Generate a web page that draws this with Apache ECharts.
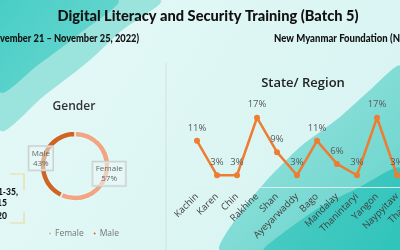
<!DOCTYPE html>
<html><head><meta charset="utf-8">
<script src="https://cdn.jsdelivr.net/npm/echarts@6/dist/echarts.min.js"></script>
<style>html,body{margin:0;padding:0;}#c{width:400px;height:250px;}</style>
</head><body><div id="c"></div>
<script>
const titleText = 'Digital Literacy and Security Training (Batch 5)';
const dateText = '(November 21 – November 25, 2022)';
const orgText = 'New Myanmar Foundation (NMF)';
const sideLines = ['Age: 21-35,', 'Male: 15', 'Female: 20'];
const genderTitle = 'Gender';
const genderNames = ['Female', 'Male'];
const genderValues = [57, 43];
const stateTitle = 'State/ Region';
const stateNames = ['Kachin','Karen','Chin','Rakhine','Shan','Ayeyarwaddy','Bago','Mandalay','Thanintaryi','Yangon','Naypyitaw','Thailand'];
const stateValues = [11.4, 2.9, 2.9, 17.1, 8.6, 2.9, 11.4, 5.7, 2.9, 17.1, 2.9, 2.9];

function fitScale(text, font, target){
  const c = document.createElement('canvas').getContext('2d');
  c.font = font;
  return target / c.measureText(text).width;
}
const tFont = '900 15px Lato';
const sFont = '900 10.5px Lato';
const chart = echarts.init(document.getElementById('c'));
const bg = [
  {type:'rect', shape:{x:0,y:0,width:400,height:250}, style:{fill:new echarts.graphic.LinearGradient(0,0,1,1,[{offset:0,color:'#E4F9F7'},{offset:1,color:'#D6F3F1'}])}, z:-20},
  {type:'polygon', shape:{points:[[0,0],[160,0],[120,32],[90,60],[45,95],[0,130]], smooth:0.3}, style:{fill:'#9BE3DD'}, z:-19},
  {type:'polygon', shape:{points:[[0,0],[118,0],[78,35],[38,65],[0,92]], smooth:0.3}, style:{fill:new echarts.graphic.LinearGradient(0,0,1,1,[{offset:0,color:'#45CDC5'},{offset:1,color:'#6FD8D1'}])}, z:-18},
  {type:'polygon', shape:{points:[[400,66],[370,90],[340,117],[300,147],[267,180],[240,213],[220,250],[400,250]], smooth:0.2}, style:{fill:new echarts.graphic.LinearGradient(0,0,1,1,[{offset:0,color:'#A2E6E1'},{offset:1,color:'#5ED1C9'}])}, z:-17},
  {type:'polygon', shape:{points:[[400,168],[360,187],[320,207],[283,233],[264,250],[400,250]], smooth:0.2}, style:{fill:new echarts.graphic.LinearGradient(0,0,1,1,[{offset:0,color:'#4FCDC5'},{offset:1,color:'#2EC3BA'}])}, z:-16},
  {type:'line', shape:{x1:166,y1:63,x2:166,y2:250}, style:{stroke:'rgba(205,222,222,0.8)', lineWidth:1}, z:-15},
  {type:'polyline', shape:{points:[[10,174],[24,174],[24,190]]}, style:{stroke:'#EADB9A', lineWidth:1.2, fill:null}, z:-14},
  {type:'polyline', shape:{points:[[24,212],[24,223],[10,223]]}, style:{stroke:'#EADB9A', lineWidth:1.2, fill:null}, z:-14}
];
const texts = [
  {type:'text', x:208, y:16, scaleX:fitScale(titleText, tFont, 301), style:{text:titleText, font:tFont, fill:'#111', textAlign:'center', textVerticalAlign:'middle'}, z:100},
  {type:'text', x:139, y:39, scaleX:fitScale(dateText.slice(3), sFont, 139), style:{text:dateText, font:sFont, fill:'#111', textAlign:'right', textVerticalAlign:'middle'}, z:100},
  {type:'text', x:274, y:39, scaleX:fitScale('New Myanmar Foundation (N', sFont, 126), style:{text:orgText, font:sFont, fill:'#111', textAlign:'left', textVerticalAlign:'middle'}, z:100},
  {type:'text', x:74, y:107, style:{text:genderTitle, font:'600 12px "Open Sans"', fill:'#333', textAlign:'center', textVerticalAlign:'middle'}, z:100},
  {type:'text', x:303, y:83, style:{text:stateTitle, font:'600 13px "Open Sans"', fill:'#222', textAlign:'center', textVerticalAlign:'middle'}, z:100},
  {type:'text', x:18, y:192, scaleX:0.9, style:{text:sideLines[0], font:'900 9.5px Lato', fill:'#111', textAlign:'right', textVerticalAlign:'middle'}, z:100},
  {type:'text', x:7, y:203, scaleX:0.9, style:{text:sideLines[1], font:'900 9.5px Lato', fill:'#111', textAlign:'right', textVerticalAlign:'middle'}, z:100},
  {type:'text', x:7, y:216, scaleX:0.9, style:{text:sideLines[2], font:'900 9.5px Lato', fill:'#111', textAlign:'right', textVerticalAlign:'middle'}, z:100}
];
chart.setOption({
  animation:false,
  graphic: bg.concat(texts),
  legend:{data:genderNames, left:42, top:224, icon:'circle', itemWidth:4, itemHeight:4, itemGap:8,
    textStyle:{fontSize:8.5, color:'#777', fontFamily:'Open Sans', padding:[0,0,0,-2]}},
  grid:{left:187, width:240, top:106, height:81, outerBoundsMode:'none', containLabel:false},
  xAxis:{type:'category', data:stateNames, boundaryGap:true,
    axisLine:{lineStyle:{color:'rgba(225,238,238,0.9)', width:1}}, axisTick:{show:false},
    axisLabel:{rotate:45, interval:0, margin:8, fontSize:9.5, color:'#404040', fontFamily:'Open Sans'}},
  yAxis:{type:'value', min:0, max:20, show:false, splitLine:{show:false}},
  series:[
    {type:'line', data:stateValues, symbol:'circle', symbolSize:6,
      itemStyle:{color:'#ED7D31'}, lineStyle:{color:'#ED7D31', width:2.5},
      label:{show:true, position:'top', distance:5, fontSize:9.5, color:'#595959', fontFamily:'Open Sans',
        formatter:p=>Math.round(p.value)+'%'}},
    {type:'pie', center:[75,166], radius:[29,35], startAngle:90, clockwise:true,
      data:genderNames.map((n,i)=>({name:n, value:genderValues[i]})),
      color:['#F2A582','#CF6423'],
      itemStyle:{borderColor:'#E4F9F7', borderWidth:1.5},
      label:{show:true, position:'inside', formatter:p=>p.name+'\n'+p.value+'%', fontSize:8, lineHeight:10,
        color:'#666', fontFamily:'Open Sans', borderColor:'#C9CFCF', borderWidth:1, padding:[2,3], backgroundColor:'rgba(235,250,248,0.5)'},
      labelLine:{show:false}}
  ]
});
</script></body></html>
